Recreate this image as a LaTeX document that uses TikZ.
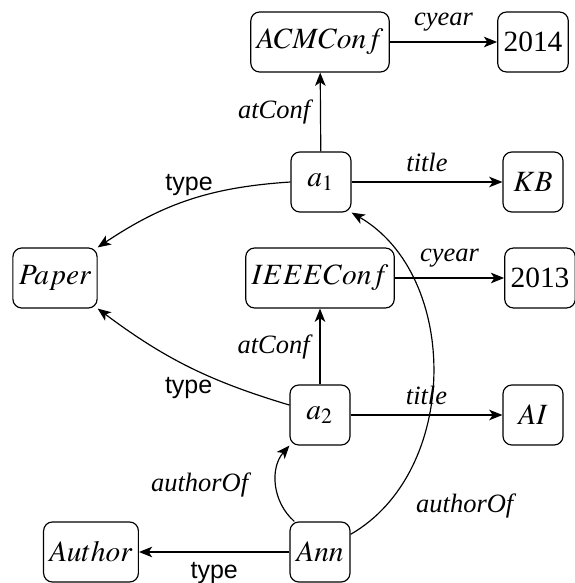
\documentclass[tikz,border=0pt]{standalone}
\usepackage{mathptmx}
\usepackage{fontspec}
\setmainfont{Liberation Serif}
\setsansfont{Liberation Sans}
\usetikzlibrary{arrows.meta}
\tikzset{
  ent/.style={draw, rounded corners=3pt, minimum width=20.4pt, minimum height=20.4pt, inner xsep=2pt},
  lbl/.style={font=\small\itshape},
  typ/.style={font=\sffamily\fontsize{8.5}{10}\selectfont},
  rel/.style={-{Stealth[length=4.5pt,width=3.6pt,inset=1.2pt]}}
}
\begin{document}
\begin{tikzpicture}[x=0.34pt,y=0.34pt]
    \useasboundingbox (0,0) rectangle (575,583);
    % entities
    \node[ent] (acm) at (320,541) {$ACMConf$};
    \node[ent] (y14) at (533,541) {2014};
    \node[ent] (a1) at (321,401) {$a_1$};
    \node[ent] (kb) at (533,401) {$KB$};
    \node[ent] (paper) at (55,305) {$Paper$};
    \node[ent] (ieee) at (320,305) {$IEEEConf$};
    \node[ent] (y13) at (540,305) {2013};
    \node[ent] (a2) at (320,168) {$a_2$};
    \node[ent] (ai) at (533,168) {$AI$};
    \node[ent] (author) at (91,31) {$Author$};
    \node[ent] (ann) at (320,31) {$Ann$};
    % straight edges
    \draw[rel] (acm) -- node[lbl,above] {cyear} (y14);
    \draw[rel] (a1) -- node[lbl,left] {atConf} (acm);
    \draw[rel] (a1) -- node[lbl,above] {title} (kb);
    \draw[rel] (ieee) -- node[lbl,above] {cyear} (y13);
    \draw[rel] (a2) -- node[lbl,left] {atConf} (ieee);
    \draw[rel] (a2) -- node[lbl,above] {title} (ai);
    \draw[rel] (ann) -- node[typ,below] {type} (author);
    % curved edges
    \draw[rel] (a1.west) to[bend right=15] node[typ,above=-2pt] {type} (paper.north east);
    \draw[rel] (a2.162) to[bend left=10] node[typ,below] {type} (paper.south east);
    \draw[rel] (ann.130) to[bend left=45] node[lbl,left=6pt] {authorOf} (a2.south west);
    \draw[rel] (ann.30) to[bend right=60] node[lbl,right=7pt,pos=0.12] {authorOf} (a1.south east);
\end{tikzpicture}
\end{document}
